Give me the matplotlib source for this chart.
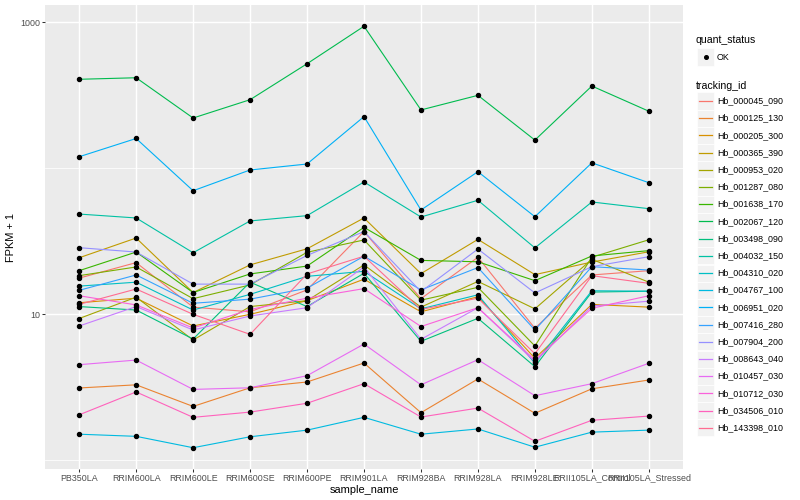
import matplotlib
matplotlib.use("Agg")
import matplotlib.pyplot as plt
import numpy as np
from matplotlib.patches import Rectangle
from matplotlib.lines import Line2D

plt.rcParams['font.family'] = ['Liberation Sans', 'DejaVu Sans']

samples = ["PB350LA", "RRIM600LA", "RRIM600LE", "RRIM600SE", "RRIM600PE",
           "RRIM901LA", "RRIM928BA", "RRIM928LA", "RRIM928LE",
           "RRII105LA_Control", "RRII105LA_Stressed"]

tracking_ids = ["Hb_000045_090", "Hb_000125_130", "Hb_000205_300", "Hb_000365_390",
                "Hb_000953_020", "Hb_001287_080", "Hb_001638_170", "Hb_002067_120",
                "Hb_003498_090", "Hb_004032_150", "Hb_004310_020", "Hb_004767_100",
                "Hb_006951_020", "Hb_007416_280", "Hb_007904_200", "Hb_008643_040",
                "Hb_010457_030", "Hb_010712_030", "Hb_034506_010", "Hb_143398_010"]

# FPKM + 1 per sample (order of `samples`)
Hb_000045_090 = [17.7, 22.6, 11.2, 10.4, 14.7, 36.9, 12.8, 24.6, 8.02, 18.6, 19.9]
Hb_000125_130 = [3.13, 3.29, 2.34, 3.14, 3.44, 4.64, 2.12, 3.61, 2.10, 3.09, 3.55]
Hb_000205_300 = [12.0, 12.9, 8.32, 10.0, 12.4, 17.4, 10.4, 13.2, 5.00, 11.7, 11.2]
Hb_000365_390 = [24.4, 33.3, 14.1, 21.8, 28.1, 45.7, 19.0, 32.6, 18.7, 22.8, 26.8]
Hb_000953_020 = [9.36, 13.1, 6.67, 11.3, 12.4, 21.8, 11.2, 16.8, 10.9, 23.8, 16.6]
Hb_001287_080 = [18.4, 21.1, 12.8, 15.9, 26.6, 32.3, 12.5, 15.3, 6.07, 24.6, 32.4]
Hb_001638_170 = [19.9, 26.7, 14.1, 18.9, 21.4, 39.4, 23.4, 22.9, 17.0, 25.1, 27.3]
Hb_002067_120 = [407, 417, 221, 295, 520, 939, 251, 316, 156, 366, 246]
Hb_003498_090 = [11.3, 10.7, 6.77, 16.6, 11.3, 19.1, 6.53, 9.39, 4.38, 14.2, 14.4]
Hb_004032_150 = [48.6, 45.7, 26.4, 43.6, 47.4, 80.6, 46.4, 60.4, 28.5, 58.8, 52.9]
Hb_004310_020 = [15.6, 16.6, 10.7, 13.7, 18.2, 19.7, 10.9, 13.6, 4.62, 14.5, 14.4]
Hb_004767_100 = [1.51, 1.46, 1.22, 1.45, 1.61, 1.97, 1.51, 1.64, 1.23, 1.56, 1.61]
Hb_006951_020 = [120, 160, 70.2, 97.4, 107, 226, 51.8, 94.8, 46.6, 109, 79.7]
Hb_007416_280 = [14.6, 18.6, 11.9, 12.7, 15.1, 25.0, 14.7, 20.9, 7.81, 21.2, 20.1]
Hb_007904_200 = [28.6, 26.7, 16.1, 16.1, 25.3, 36.9, 14.3, 28.0, 14.0, 21.2, 24.8]
Hb_008643_040 = [8.32, 11.3, 7.81, 9.74, 11.1, 21.1, 6.74, 11.1, 4.74, 11.4, 12.3]
Hb_010457_030 = [4.52, 4.86, 3.06, 3.14, 3.80, 6.26, 3.29, 4.89, 2.77, 3.35, 4.62]
Hb_010712_030 = [13.4, 11.6, 8.06, 10.8, 12.9, 15.0, 8.25, 11.1, 4.86, 11.0, 13.4]
Hb_034506_010 = [2.05, 2.94, 1.97, 2.14, 2.46, 3.35, 1.98, 2.28, 1.35, 1.88, 2.01]
Hb_143398_010 = [11.7, 14.9, 10.0, 7.29, 18.9, 25.0, 10.8, 12.9, 5.37, 18.4, 16.3]

series = [Hb_000045_090, Hb_000125_130, Hb_000205_300, Hb_000365_390, Hb_000953_020,
          Hb_001287_080, Hb_001638_170, Hb_002067_120, Hb_003498_090, Hb_004032_150,
          Hb_004310_020, Hb_004767_100, Hb_006951_020, Hb_007416_280, Hb_007904_200,
          Hb_008643_040, Hb_010457_030, Hb_010712_030, Hb_034506_010, Hb_143398_010]

colors = ["#F8766D", "#EA8331", "#D89000", "#C09B00", "#A3A500", "#7CAE00", "#39B600",
          "#00BB4E", "#00BF7D", "#00C1A3", "#00BFC4", "#00BAE0", "#00B0F6", "#35A2FF",
          "#9590FF", "#C77CFF", "#E76BF3", "#FA62DB", "#FF62BC", "#FF6C91"]

W, H = 800, 500
fig = plt.figure(figsize=(8, 5), dpi=100)

# y limits: ggplot 5% expansion in log space
allv = np.concatenate([np.asarray(s, float) for s in series])
lo, hi = np.log10(allv.min()), np.log10(allv.max())
pad = 0.05 * (hi - lo)
ylo, yhi = 10 ** (lo - pad), 10 ** (hi + pad)

px_left, px_right, px_top, px_bot = 45, 683, 5.2, 468.8
ax = fig.add_axes([px_left / W, 1 - px_bot / H, (px_right - px_left) / W, (px_bot - px_top) / H])
ax.set_facecolor("#EBEBEB")
ax.set_yscale("log")
ax.set_ylim(ylo, yhi)
ax.set_xlim(-0.6, len(samples) - 1 + 0.6)
for sp in ax.spines.values():
    sp.set_visible(False)

x = np.arange(len(samples))
# grid
for xi in x:
    ax.axvline(xi, color="white", lw=1.05, zorder=0.5)
for yv in [1, 100]:
    ax.axhline(yv, color="white", lw=0.55, zorder=0.5)
for yv in [10, 1000]:
    ax.axhline(yv, color="white", lw=1.05, zorder=0.5)

for s, c in zip(series, colors):
    ax.plot(x, s, color=c, lw=0.8, zorder=2, solid_capstyle="butt")
for s in series:
    ax.plot(x, s, linestyle="none", marker="o", ms=2.9, mfc="black", mec="black", zorder=3)

ax.set_xticks(x)
ax.set_xticklabels(samples, fontsize=6.4, color="#4D4D4D")
ax.set_yticks([10, 1000])
ax.set_yticklabels(["10", "1000"], fontsize=6.4, color="#4D4D4D")
ax.yaxis.set_minor_locator(matplotlib.ticker.NullLocator())
ax.tick_params(axis="both", length=2.0, width=0.75, color="#333333", pad=1.5)
ax.set_xlabel("sample_name", fontsize=7.9, labelpad=2)
ax.set_ylabel("FPKM + 1", fontsize=7.9, labelpad=3)

# legends (figure pixel coords)
def fx(px):
    return px / W

def fy(py):
    return 1 - py / H

tf = fig.transFigure
fig.text(fx(696), fy(40), "quant_status", fontsize=7.6, va="center", ha="left")
key = 17.0
fig.add_artist(Rectangle((fx(697), fy(57 + key / 2)), key / W, key / H, transform=tf,
                         facecolor="#F2F2F2", edgecolor="white", lw=0.5))
fig.add_artist(Line2D([fx(697 + key / 2)], [fy(57)], transform=tf, marker="o", ms=2.6,
                      mfc="black", mec="black", linestyle="none"))
fig.text(fx(717), fy(57), "OK", fontsize=6.4, va="center", ha="left")

fig.text(fx(696), fy(86), "tracking_id", fontsize=7.6, va="center", ha="left")
for i, (name, c) in enumerate(zip(tracking_ids, colors)):
    cy = 101 + 17.2 * i
    fig.add_artist(Rectangle((fx(697), fy(cy + key / 2)), key / W, key / H, transform=tf,
                             facecolor="#F2F2F2", edgecolor="white", lw=0.5))
    fig.add_artist(Line2D([fx(699), fx(712)], [fy(cy), fy(cy)], transform=tf, color=c, lw=0.9))
    fig.text(fx(717), fy(cy), name, fontsize=6.4, va="center", ha="left")

fig.savefig("out.png", dpi=100, facecolor="white")
